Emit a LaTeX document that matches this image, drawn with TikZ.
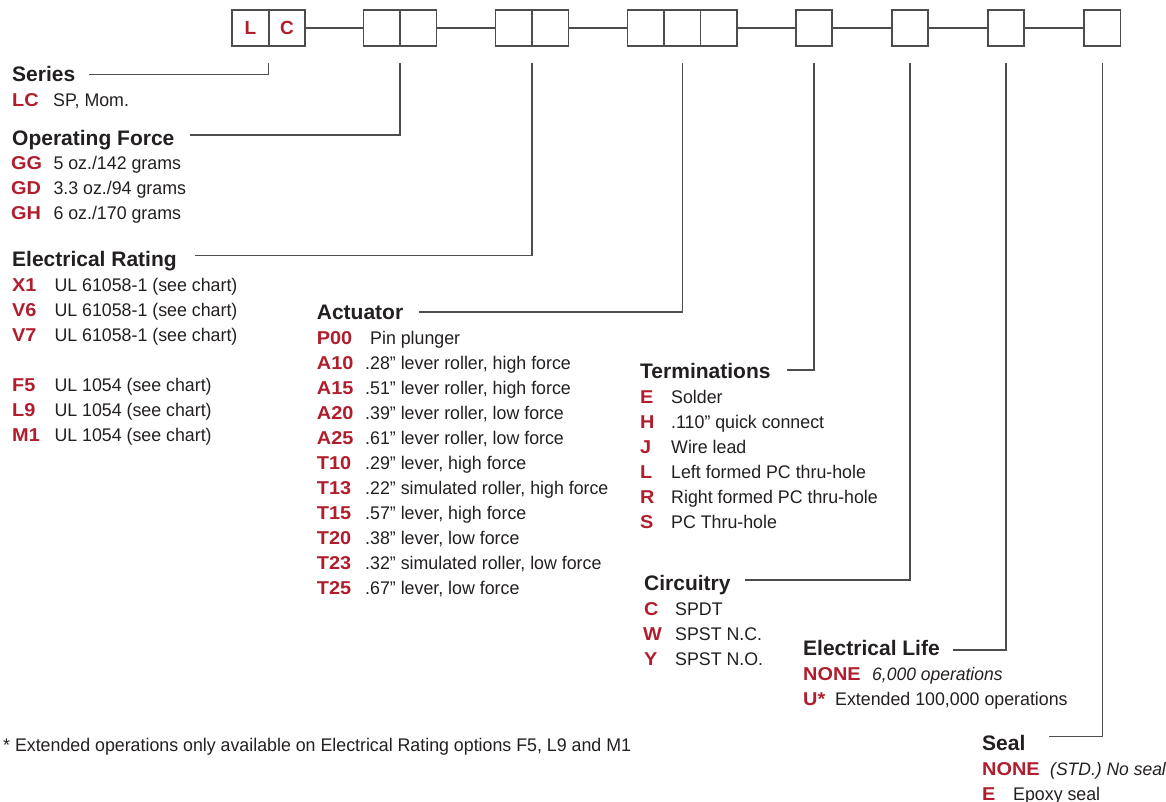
\documentclass[tikz,border=0pt]{standalone}
\usepackage{fontspec}
\setmainfont{Liberation Sans}
\newfontfamily\bodyfont[FakeStretch=0.972]{Liberation Sans}
\newfontfamily\codefont[FakeStretch=1.07]{Liberation Sans}
\usetikzlibrary{positioning}
\definecolor{codered}{HTML}{B01E2D}
\definecolor{inkgray}{HTML}{231F20}
\definecolor{rulegray}{HTML}{4D4D4F}

\begin{document}
\begin{tikzpicture}[
    x=1pt, y=-1pt,
    cell/.style={
        rectangle, draw=rulegray, line width=1.6pt, outer sep=0pt,
        minimum width=36.5pt, minimum height=36pt, inner sep=0pt,
        text=codered, font=\fontsize{19}{22}\selectfont\bfseries
    },
    head/.style={
        anchor=base west, inner sep=0pt, text=inkgray,
        font=\fontsize{21}{24}\selectfont\bfseries
    },
    code/.style={
        anchor=base west, inner sep=0pt, text=codered,
        font=\codefont\fontsize{18.6}{22}\selectfont\bfseries
    },
    desc/.style={
        anchor=base west, inner sep=0pt, text=inkgray,
        font=\bodyfont\fontsize{18.3}{22}\selectfont
    },
    note/.style={desc, font=\bodyfont\fontsize{18}{22}\selectfont\itshape},
    link/.style={draw=rulegray, line width=1.3pt},
]
\useasboundingbox (0,0) rectangle (1166,802);

% part number boxes
\node[cell] (lc1) at (250.5,28) {L};
\node[cell, right=0pt of lc1] (lc2) {C};
\node[cell] (of1) at (381.7,28) {};
\node[cell, right=0pt of of1] (of2) {};
\node[cell] (er1) at (513.8,28) {};
\node[cell, right=0pt of er1] (er2) {};
\node[cell] (ac1) at (645.7,28) {};
\node[cell, right=0pt of ac1] (ac2) {};
\node[cell, right=0pt of ac2] (ac3) {};
\node[cell] (tm) at (814,28) {};
\node[cell] (ci) at (910,28) {};
\node[cell] (el) at (1006,28) {};
\node[cell] (se) at (1102.3,28) {};

\draw[link] (lc2) -- (of1);
\draw[link] (of2) -- (er1);
\draw[link] (er2) -- (ac1);
\draw[link] (ac3) -- (tm);
\draw[link] (tm) -- (ci);
\draw[link] (ci) -- (el);
\draw[link] (el) -- (se);

% leader lines
\coordinate (dSeries) at ([yshift=-17pt]lc1.south east);
\coordinate (dForce)  at ([yshift=-17pt]of1.south east);
\coordinate (dRating) at ([yshift=-17pt]er1.south east);
\coordinate (dAct)    at ([yshift=-17pt]ac2.south);
\coordinate (dTerm)   at ([yshift=-17pt]tm.south);
\coordinate (dCirc)   at ([yshift=-17pt]ci.south);
\coordinate (dLife)   at ([yshift=-17pt]el.south);
\coordinate (dSeal)   at ([yshift=-17pt]se.south);

\coordinate (sSeries) at (89,74.7);
\coordinate (sForce)  at (190,135);
\coordinate (sRating) at (195,255.7);
\coordinate (sAct)    at (419,312);
\coordinate (sTerm)   at (787,370);
\coordinate (sCirc)   at (745,580);
\coordinate (sLife)   at (953,650);
\coordinate (sSeal)   at (1049,736.7);

\draw[link] (dSeries) |- (sSeries);
\draw[link] (dForce)  |- (sForce);
\draw[link] (dRating) |- (sRating);
\draw[link] (dAct)    |- (sAct);
\draw[link] (dTerm)   |- (sTerm);
\draw[link] (dCirc)   |- (sCirc);
\draw[link] (dLife)   |- (sLife);
\draw[link] (dSeal)   |- (sSeal);

% Series
\node[head] (hdSeries) at (12,82) {Series};
\node[code] (cLC) at (12,106.7) {LC};
\node[desc] at (53,106.7) {SP, Mom.};

% Operating Force
\node[head] (hdForce) at (12,146) {Operating Force};
\node[code] (cGG) at (11,170) {GG};
\node[desc] at (53.3,170) {5 oz./142 grams};
\node[code] (cGD) at (11,195) {GD};
\node[desc] at (53.3,195) {3.3 oz./94 grams};
\node[code] (cGH) at (11,220) {GH};
\node[desc] at (53.3,220) {6 oz./170 grams};

% Electrical Rating
\node[head] (hdRating) at (12,266.7) {Electrical Rating};
\node[code] (cX1) at (12,291.7) {X1};
\node[desc] at (54.3,291.7) {UL 61058-1 (see chart)};
\node[code] (cV6) at (12,316.7) {V6};
\node[desc] at (54.3,316.7) {UL 61058-1 (see chart)};
\node[code] (cV7) at (12,341.7) {V7};
\node[desc] at (54.3,341.7) {UL 61058-1 (see chart)};
\node[code] (cF5) at (12,391.7) {F5};
\node[desc] at (54.3,391.7) {UL 1054 (see chart)};
\node[code] (cL9) at (12,416.7) {L9};
\node[desc] at (54.3,416.7) {UL 1054 (see chart)};
\node[code] (cM1) at (12,441.7) {M1};
\node[desc] at (54.3,441.7) {UL 1054 (see chart)};

% Actuator
\node[head] (hdAct) at (316.7,319.3) {Actuator};
\node[code] (cP00) at (316.7,344.3) {P00};
\node[desc] at (370,344.3) {Pin plunger};
\node[code] (cA10) at (316.7,369.3) {A10};
\node[desc] at (365,369.3) {.28” lever roller, high force};
\node[code] (cA15) at (316.7,394.3) {A15};
\node[desc] at (365,394.3) {.51” lever roller, high force};
\node[code] (cA20) at (316.7,419.3) {A20};
\node[desc] at (365,419.3) {.39” lever roller, low force};
\node[code] (cA25) at (316.7,444.3) {A25};
\node[desc] at (365,444.3) {.61” lever roller, low force};
\node[code] (cT10) at (316.7,469.3) {T10};
\node[desc] at (365,469.3) {.29” lever, high force};
\node[code] (cT13) at (316.7,494.3) {T13};
\node[desc] at (365,494.3) {.22” simulated roller, high force};
\node[code] (cT15) at (316.7,519.3) {T15};
\node[desc] at (365,519.3) {.57” lever, high force};
\node[code] (cT20) at (316.7,544.3) {T20};
\node[desc] at (365,544.3) {.38” lever, low force};
\node[code] (cT23) at (316.7,569.3) {T23};
\node[desc] at (365,569.3) {.32” simulated roller, low force};
\node[code] (cT25) at (316.7,594.3) {T25};
\node[desc] at (365,594.3) {.67” lever, low force};

% Terminations
\node[head] (hdTerm) at (640,378.3) {Terminations};
\node[code] (cE) at (640,403.3) {E};
\node[desc] at (671,403.3) {Solder};
\node[code] (cH) at (640,428.3) {H};
\node[desc] at (671,428.3) {.110” quick connect};
\node[code] (cJ) at (640,453.3) {J};
\node[desc] at (671,453.3) {Wire lead};
\node[code] (cL) at (640,478.3) {L};
\node[desc] at (671,478.3) {Left formed PC thru-hole};
\node[code] (cR) at (640,503.3) {R};
\node[desc] at (671,503.3) {Right formed PC thru-hole};
\node[code] (cS) at (640,528.3) {S};
\node[desc] at (671,528.3) {PC Thru-hole};

% Circuitry
\node[head] (hdCirc) at (644,590) {Circuitry};
\node[code] (cC) at (644,615) {C};
\node[desc] at (675,615) {SPDT};
\node[code] (cW) at (643,640) {W};
\node[desc] at (675,640) {SPST N.C.};
\node[code] (cY) at (644,665) {Y};
\node[desc] at (675,665) {SPST N.O.};

% Electrical Life
\node[head] (hdLife) at (803,655) {Electrical Life};
\node[code] (cNone) at (803,680) {NONE};
\node[note] at (872,680) {6,000 operations};
\node[code] (cU) at (803,705) {U*};
\node[desc] at (835,705) {Extended 100,000 operations};

% Seal
\node[head] (hdSeal) at (982,750) {Seal};
\node[code] (cNoSeal) at (982,775) {NONE};
\node[note] at (1050,775) {(STD.) No seal};
\node[code] (cEpoxy) at (982,800) {E};
\node[desc] at (1013,800) {Epoxy seal};

% footnote
\node[desc] (foot) at (3,751) {* Extended operations only available on Electrical Rating options F5, L9 and M1};

\end{tikzpicture}
\end{document}
